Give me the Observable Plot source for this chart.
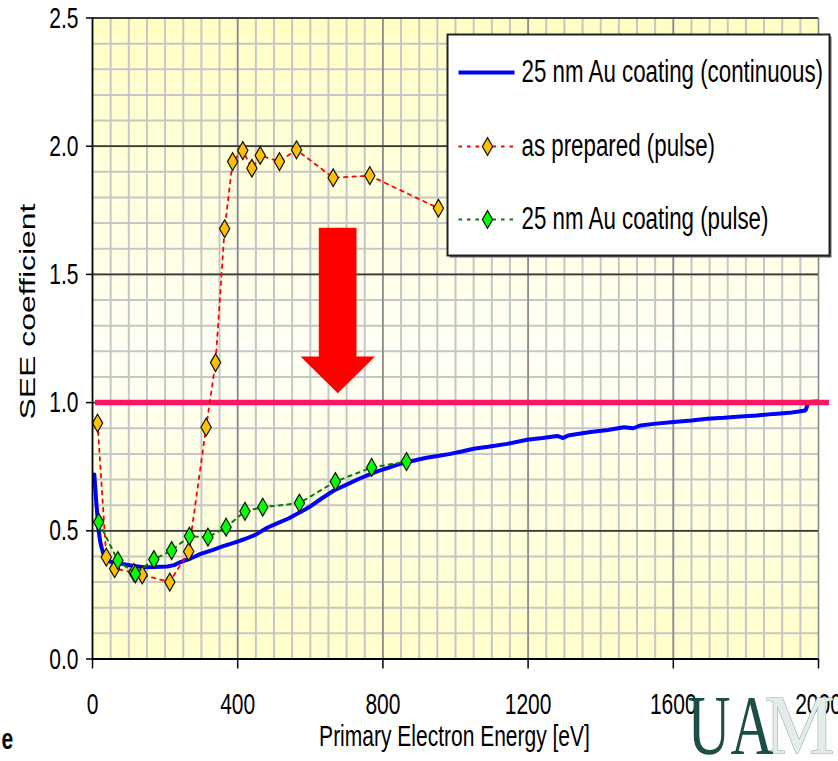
<!DOCTYPE html>
<html><head><meta charset="utf-8">
<script src="https://cdn.jsdelivr.net/npm/d3@7"></script>
<script src="https://cdn.jsdelivr.net/npm/@observablehq/plot@0.6"></script>
<style>body{margin:0;background:#fff} svg{display:block}</style>
</head><body><div id="chart"></div>
<script>
// ---------- data ----------
const xTicks = [0, 400, 800, 1200, 1600, 2000];
const yTicks = [0, 0.5, 1.0, 1.5, 2.0, 2.5];
const seriesNames = ["25 nm Au coating (continuous)", "as prepared (pulse)", "25 nm Au coating (pulse)"];
const xLabel = "Primary Electron Energy [eV]";
const yLabel = "SEE coefficient";
const threshold = 1.0;

const continuousE = [5, 8, 11, 14, 17, 21, 25, 30, 36, 45, 60, 86, 110, 141, 170, 206, 225, 242, 270, 298, 330, 360, 389, 420, 450, 481, 510, 540, 573, 600, 630, 665, 700, 730, 757, 790, 820, 848, 880, 920, 959, 986, 1020, 1050, 1090, 1142, 1197, 1240, 1280, 1297, 1310, 1372, 1420, 1464, 1490, 1510, 1546, 1601, 1650, 1693, 1740, 1785, 1830, 1877, 1920, 1945, 1964, 1973, 1996];
const continuousS = [0.72, 0.66, 0.60, 0.55, 0.50, 0.46, 0.435, 0.41, 0.395, 0.382, 0.375, 0.370, 0.364, 0.358, 0.359, 0.361, 0.366, 0.378, 0.392, 0.410, 0.425, 0.440, 0.453, 0.468, 0.485, 0.512, 0.530, 0.548, 0.573, 0.595, 0.625, 0.657, 0.680, 0.700, 0.716, 0.735, 0.748, 0.761, 0.772, 0.785, 0.794, 0.800, 0.810, 0.820, 0.828, 0.839, 0.855, 0.862, 0.870, 0.862, 0.872, 0.885, 0.893, 0.904, 0.900, 0.911, 0.917, 0.924, 0.930, 0.937, 0.941, 0.946, 0.950, 0.956, 0.960, 0.965, 0.969, 1.002, 1.004];

const preparedE = [14, 38, 61, 114, 137, 213, 265, 313, 339, 364, 386, 414, 439, 462, 515, 562, 663, 764, 953];
const preparedS = [0.92, 0.397, 0.352, 0.338, 0.328, 0.30, 0.419, 0.904, 1.156, 1.678, 1.94, 1.983, 1.914, 1.964, 1.94, 1.986, 1.877, 1.885, 1.758];

const coatedE = [17, 70, 118, 169, 218, 267, 318, 368, 420, 469, 570, 669, 769, 865];
const coatedS = [0.534, 0.384, 0.332, 0.388, 0.423, 0.479, 0.475, 0.514, 0.576, 0.592, 0.608, 0.692, 0.747, 0.770];

// ---------- layout ----------
const W = 838, H = 761, mL = 92, mR = 20, mT = 17.5, mB = 102.5;
const X = d3.scaleLinear([0, 2000], [mL, W - mR]);
const Y = d3.scaleLinear([0, 2.5], [H - mB, mT]);
const FONT = "Liberation Sans";

const cont = continuousE.map((e, i) => ({e, s: continuousS[i]}));
const prep = preparedE.map((e, i) => ({e, s: preparedS[i]}));
const coat = coatedE.map((e, i) => ({e, s: coatedS[i]}));

// arrow outline (pixel layout -> data space)
const arrowPx = [[318.3,227.3],[356,227.3],[356,356],[374.5,356],[337.3,392.7],[300,356],[318.3,356]];
const arrow = arrowPx.map(([px, py]) => ({e: X.invert(px), s: Y.invert(py)}));

// legend layout
const legRowsPy = [72, 146, 219];
const legend = seriesNames.map((name, i) => ({
  name, y: Y.invert(legRowsPy[i]),
  x1: X.invert(458), x2: X.invert(514), xd: X.invert(487), xt: X.invert(521)
}));

const svg = Plot.plot({
  width: W, height: H,
  marginLeft: mL, marginRight: mR, marginTop: mT, marginBottom: mB,
  style: {fontFamily: FONT, fontSize: "30px", background: "white", overflow: "visible"},
  x: {domain: [0, 2000]},
  y: {domain: [0, 2.5]},
  marks: [
    Plot.frame({fill: "url(#bgGrad)", stroke: "none"}),
    Plot.gridX(d3.range(50, 2000, 50), {stroke: "#c6c6c6", strokeOpacity: 1, strokeWidth: 2}),
    Plot.gridY(d3.range(1, 25).map(d => d / 10), {stroke: "#c6c6c6", strokeOpacity: 1, strokeWidth: 2}),
    Plot.gridX(xTicks.slice(1), {stroke: "#8a8a8a", strokeOpacity: 1, strokeWidth: 1.6}),
    Plot.gridY(yTicks.slice(1), {stroke: "#3a3a3a", strokeOpacity: 1, strokeWidth: 1.8}),
    // continuous curve
    Plot.line(cont, {x: "e", y: "s", stroke: "#0000ff", strokeWidth: 4, strokeLinejoin: "miter"}),
    // threshold
    Plot.ruleY([threshold], {x1: X.invert(95), x2: X.invert(829), stroke: "#ff1464", strokeWidth: 5.5}),
    // as prepared
    Plot.line(prep, {x: "e", y: "s", stroke: "#ff0000", strokeWidth: 1.8, strokeDasharray: "3.5,5"}),
    Plot.dot(prep, {x: "e", y: "s", symbol: "diamond", r: 5.4, fill: "#ffc000", stroke: "#111", strokeWidth: 1.2}),
    // coated pulse
    Plot.line(coat, {x: "e", y: "s", stroke: "#008000", strokeWidth: 2, strokeDasharray: "3.5,5"}),
    Plot.dot(coat, {x: "e", y: "s", symbol: "diamond", r: 5.4, fill: "#00ff00", stroke: "#111", strokeWidth: 1.2}),
    // arrow
    Plot.line(arrow, {x: "e", y: "s", fill: "#ff0000", stroke: "none"}),
    // axes
    Plot.ruleX([0], {y1: 0, y2: 2.5, stroke: "#000", strokeWidth: 1.8}),
    Plot.ruleY([0], {x1: 0, x2: 2000, stroke: "#000", strokeWidth: 1.8}),
    Plot.axisY(yTicks, {tickSize: 6, tickPadding: 8, tickFormat: d => d.toFixed(1), fontSize: 30, fontFamily: FONT, label: null, stroke: "#000", strokeWidth: 1.5, fill: "#000"}),
    Plot.axisX(xTicks, {tickSize: 10, tickPadding: 24, tickFormat: d => String(d), fontSize: 30, fontFamily: FONT, label: null, stroke: "#000", strokeWidth: 1.5, fill: "#000"}),
    Plot.text([xLabel], {frameAnchor: "bottom", dx: -1, dy: 87, fontSize: 30, fontFamily: FONT, fill: "#000"}),
    Plot.text([yLabel], {frameAnchor: "left", dx: -65, dy: 81, rotate: -90, textAnchor: "start", fontSize: 22, fontFamily: FONT, fill: "#000"}),
    // legend
    Plot.frame({insetLeft: 449 - mL, insetRight: -(831 - (W - mR)), insetTop: 36 - mT, insetBottom: (H - mB) - 257, fill: "#666", stroke: "none"}),
    Plot.frame({insetLeft: 447 - mL, insetRight: -(829 - (W - mR)), insetTop: 34 - mT, insetBottom: (H - mB) - 255, fill: "#fff", stroke: "#222", strokeWidth: 2}),
    Plot.link(legend.slice(0, 1), {x1: "x1", x2: "x2", y1: "y", y2: "y", stroke: "#0000ff", strokeWidth: 4}),
    Plot.link(legend.slice(1, 2), {x1: "x1", x2: "x2", y1: "y", y2: "y", stroke: "#ff0000", strokeWidth: 1.8, strokeDasharray: "3.5,5"}),
    Plot.link(legend.slice(2, 3), {x1: "x1", x2: "x2", y1: "y", y2: "y", stroke: "#008000", strokeWidth: 2, strokeDasharray: "3.5,5"}),
    Plot.dot(legend.slice(1, 2), {x: "xd", y: "y", symbol: "diamond", r: 5.4, fill: "#ffc000", stroke: "#111", strokeWidth: 1.2}),
    Plot.dot(legend.slice(2, 3), {x: "xd", y: "y", symbol: "diamond", r: 5.4, fill: "#00ff00", stroke: "#111", strokeWidth: 1.2}),
    Plot.text(legend, {x: "xt", y: "y", text: "name", textAnchor: "start", fontSize: 31, fontFamily: FONT, fill: "#000"}),
    // stray slide text and logo
    Plot.text(["e"], {frameAnchor: "bottom-left", dx: -91, dy: 90, textAnchor: "start", fontSize: 30, fontWeight: "bold", fontFamily: FONT, fill: "#000"}),
    Plot.text(["M"], {frameAnchor: "bottom-right", dx: -54, dy: 95, textAnchor: "start", fontSize: 84, fontFamily: "Liberation Serif", fill: "#e4ece9", stroke: "#8fb0a6", strokeWidth: 1.2}),
    Plot.text(["UA"], {frameAnchor: "bottom-right", dx: -131, dy: 95, textAnchor: "start", fontSize: 84, fontFamily: "Liberation Serif", fill: "#1d4e45"})
  ]
});

document.getElementById("chart").append(svg);

// background gradient
const defs = d3.select(svg).insert("defs", ":first-child");
const grad = defs.append("linearGradient").attr("id", "bgGrad").attr("x1", 0).attr("y1", 0).attr("x2", 0).attr("y2", 1);
grad.append("stop").attr("offset", "0%").attr("stop-color", "#ffffc4");
grad.append("stop").attr("offset", "52%").attr("stop-color", "#fffff6");
grad.append("stop").attr("offset", "100%").attr("stop-color", "#ffffca");

// horizontally condensed lettering, as in the source slide
const special = {[yLabel]: 216, "UA": 86, "M": 70};
const legendSet = new Set(seriesNames);
d3.select(svg).selectAll("text").each(function() {
  const t = this.textContent;
  const len = this.getComputedTextLength();
  if (!len) return;
  const target = special[t] !== undefined ? special[t] : len * (legendSet.has(t) ? 0.72 : 0.7);
  this.setAttribute("textLength", target);
  this.setAttribute("lengthAdjust", "spacingAndGlyphs");
});
</script>
</body></html>
